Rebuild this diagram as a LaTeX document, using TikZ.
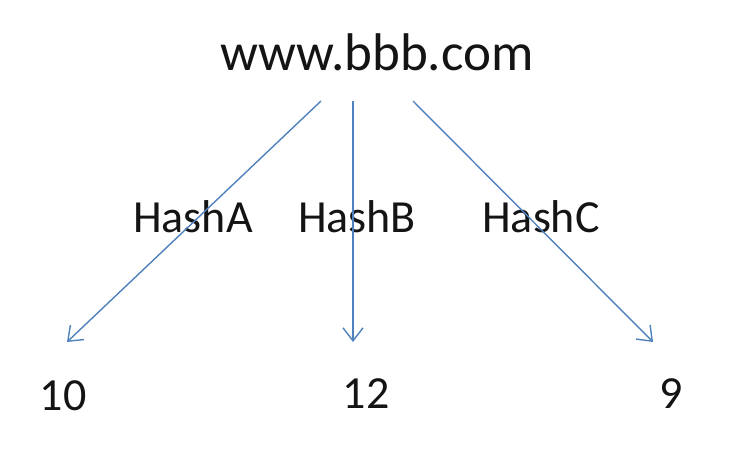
\documentclass[tikz,border=0pt]{standalone}
\usepackage{fontspec}
\setmainfont{Carlito}
\usetikzlibrary{arrows.meta}
\definecolor{arrowblue}{HTML}{4F81BD}
\definecolor{txt}{HTML}{141414}
\begin{document}
\begin{tikzpicture}[x=1pt,y=-1pt,
  lbl/.style={anchor=base,inner sep=0pt,text=txt,font=\fontsize{46}{50}\selectfont},
  big/.style={anchor=base,inner sep=0pt,text=txt,font=\fontsize{53}{58}\selectfont},
  conn/.style={draw=arrowblue,line width=1.4pt,-{Straight Barb[length=13pt,width=20pt,line width=1.4pt]}}]
\useasboundingbox (0,0) rectangle (730,464);
\node[big] (www) at (377,70) {www.bbb.com};
\node[lbl] (ha) at (193,232) {HashA};
\node[lbl] (hb) at (357,232) {HashB};
\node[lbl] (hc) at (541,232) {HashC};
\node[lbl] (n10) at (63,410) {10};
\node[lbl] (n12) at (366,408) {12};
\node[lbl] (n9) at (671,408) {9};
\coordinate (sa) at (321,101);
\coordinate (sb) at (353,101);
\coordinate (sc) at (413,101);
\coordinate (ea) at (67,342);
\coordinate (eb) at (353,342);
\coordinate (ec) at (653,342);
\draw[conn] (sa) -- (ea);
\draw[conn] (sb) -- (eb);
\draw[conn] (sc) -- (ec);
\end{tikzpicture}
\end{document}
